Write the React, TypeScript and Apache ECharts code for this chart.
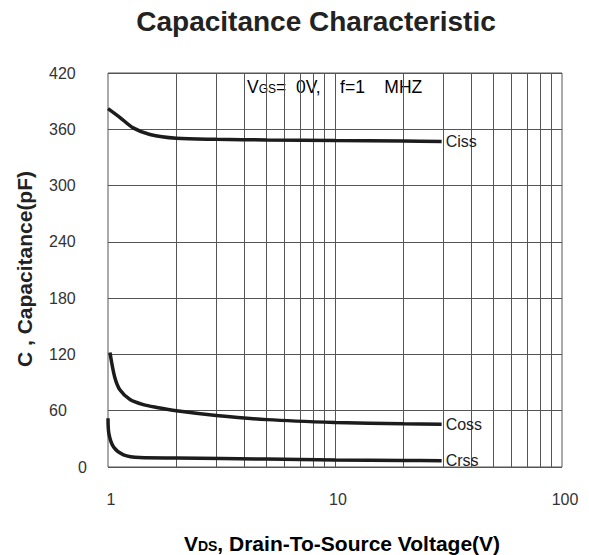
import React, { useEffect, useRef } from "react";
import * as echarts from "echarts";

const cissX = [1, 1.13, 1.29, 1.53, 2, 3, 5, 10, 20, 29.5];
const cissY = [382, 372.5, 361.5, 354.5, 350.5, 349.3, 348.6, 348, 347.5, 347];
const cossX = [1.02, 1.07, 1.13, 1.25, 1.43, 1.64, 2, 3, 5, 10, 20, 29.5];
const cossY = [122, 96, 82, 72, 66.5, 63.5, 60, 55, 50.5, 47.5, 46, 45.5];
const crssX = [1, 1.01, 1.06, 1.17, 1.38, 2, 5, 10, 20, 29.5];
const crssY = [52, 35, 21, 13, 10, 9.5, 8.5, 7.5, 7, 6.7];
const vGridValues = [2, 3, 4, 5, 6, 7, 8, 9, 10, 20, 30, 40, 50, 60, 70, 80, 90];

const FONT = "'Liberation Sans', Arial, sans-serif";
const LINE = "#1c1c1c";
const GRID = "#555";

function zip(xs: number[], ys: number[]) {
  return xs.map((x, i) => [x, ys[i]]);
}

export default function App() {
  const ref = useRef<HTMLDivElement>(null);
  useEffect(() => {
    document.body.style.margin = "0";
    const chart = echarts.init(ref.current!, null, { renderer: "svg" });
    const mkSeries = (name: string, xs: number[], ys: number[]) => ({
      name,
      type: "line",
      data: zip(xs, ys),
      smooth: 0.3,
      showSymbol: false,
      symbol: "none",
      lineStyle: { color: LINE, width: 3.5 },
      endLabel: {
        show: true,
        formatter: name,
        distance: 4,
        color: "#222",
        fontSize: 16,
        fontFamily: FONT,
      },
      z: 5,
    });
    chart.setOption({
      animation: false,
      grid: {
        left: 108,
        top: 73,
        width: 454,
        height: 394,
        show: true,
        borderColor: GRID,
        borderWidth: 1,
        backgroundColor: "transparent",
      },
      xAxis: {
        type: "log",
        logBase: 10,
        min: 1,
        max: 100,
        axisLine: { show: false },
        axisTick: { show: false },
        splitLine: { show: false },
        axisLabel: {
          color: "#333",
          fontSize: 16,
          fontFamily: FONT,
          margin: 24,
          padding: [0, 0, 0, 6],
        },
      },
      yAxis: {
        type: "value",
        min: 0,
        max: 420,
        interval: 60,
        axisLine: { show: false },
        axisTick: { show: false },
        splitLine: { show: true, lineStyle: { color: GRID, width: 1 } },
        axisLabel: {
          color: "#333",
          fontSize: 16,
          fontFamily: FONT,
          align: "left",
          margin: 59,
          formatter: (v: number) => (v === 0 ? "{z|0}" : String(v)),
          rich: {
            z: { fontSize: 16, fontFamily: FONT, color: "#333", padding: [0, 0, 0, 29] },
          },
        },
      },
      series: [
        {
          type: "line",
          data: [],
          silent: true,
          markLine: {
            silent: true,
            symbol: "none",
            label: { show: false },
            lineStyle: { color: GRID, width: 1, type: "solid" },
            data: vGridValues.map((v) => ({ xAxis: v })),
          },
        },
        mkSeries("Ciss", cissX, cissY),
        mkSeries("Coss", cossX, cossY),
        mkSeries("Crss", crssX, crssY),
      ],
      graphic: [
        {
          type: "text",
          x: 316,
          y: 21,
          style: {
            text: "Capacitance Characteristic",
            font: `bold 28px ${FONT}`,
            fill: "#222",
            align: "center",
            verticalAlign: "middle",
          },
        },
        {
          type: "text",
          x: 247,
          y: 78,
          style: {
            text: "{b|V}{s|GS}{b|=  0V,    f=1    MHZ}",
            rich: {
              b: { fontSize: 17.5, fontFamily: FONT, color: "#222" },
              s: { fontSize: 12, fontFamily: FONT, color: "#222", padding: [3, 0, 0, 0] },
            },
          },
        },
        {
          type: "text",
          x: 342,
          y: 543,
          style: {
            text: "{b|V}{s|DS}{b|, Drain-To-Source Voltage(V)}",
            align: "center",
            verticalAlign: "middle",
            rich: {
              b: { fontSize: 21, fontWeight: "bold", fontFamily: FONT, color: "#222" },
              s: { fontSize: 14, fontWeight: "bold", fontFamily: FONT, color: "#222", padding: [5, 0, 0, 0] },
            },
          },
        },
        {
          type: "text",
          x: 24,
          y: 269,
          rotation: Math.PI / 2,
          style: {
            text: "C , Capacitance(pF)",
            align: "center",
            verticalAlign: "middle",
            font: `bold 21px ${FONT}`,
            fill: "#222",
          },
        },
      ],
    });
    return () => chart.dispose();
  }, []);
  return <div ref={ref} style={{ width: 589, height: 555 }} />;
}
